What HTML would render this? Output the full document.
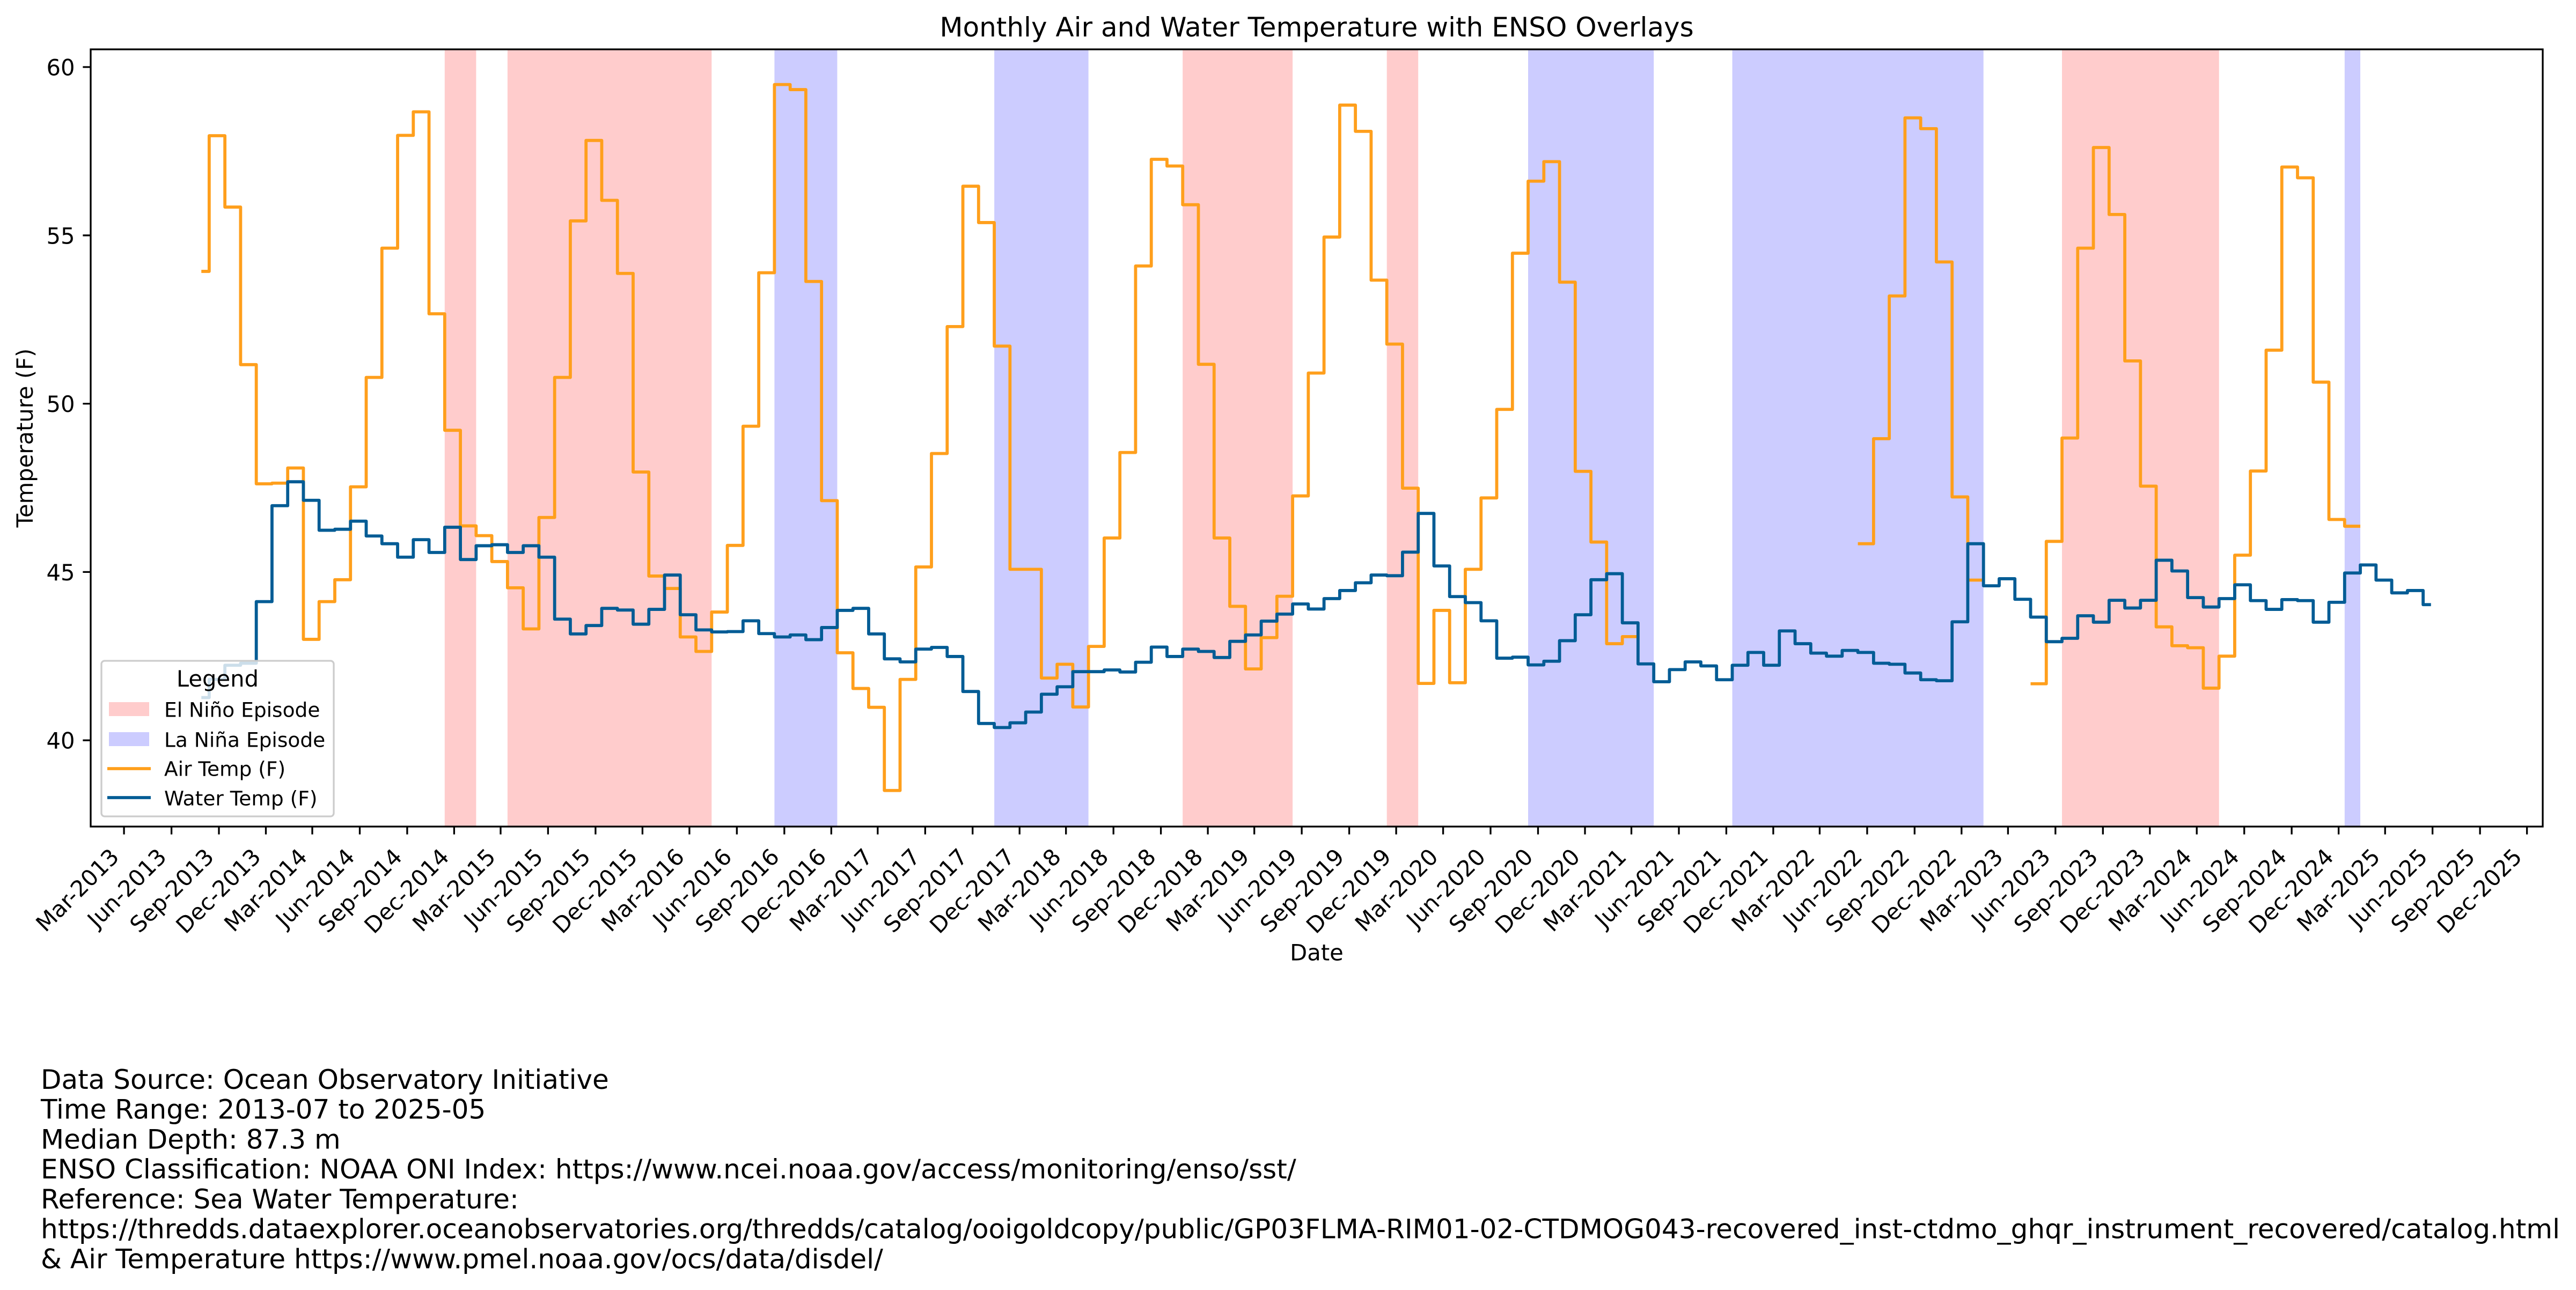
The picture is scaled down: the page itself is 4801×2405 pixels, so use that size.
<!DOCTYPE html>
<html>
<head>
<meta charset="utf-8">
<style>
html,body{margin:0;padding:0;background:#fff;}
svg{display:block;}
text{font-family:"DejaVu Sans","Liberation Sans",sans-serif;fill:#000;}
</style>
</head>
<body>
<svg width="4801" height="2405" viewBox="0 0 4801 2405" xmlns="http://www.w3.org/2000/svg">
<rect x="0" y="0" width="4801" height="2405" fill="#fff"/>

<!-- ENSO spans -->
<g fill="#ffcccc">
<rect x="828.8" y="92" width="58.6" height="1449"/>
<rect x="945.9" y="92" width="380.4" height="1449"/>
<rect x="2204.2" y="92" width="204.9" height="1449"/>
<rect x="2584.7" y="92" width="58.5" height="1449"/>
<rect x="3843.0" y="92" width="292.7" height="1449"/>
</g>
<g fill="#ccccff">
<rect x="1443.4" y="92" width="117.0" height="1449"/>
<rect x="1853.1" y="92" width="175.5" height="1449"/>
<rect x="2848.0" y="92" width="234.2" height="1449"/>
<rect x="3228.5" y="92" width="468.2" height="1449"/>
<rect x="4369.8" y="92" width="29.2" height="1449"/>
</g>

<!-- data lines: x = 360.6 + 29.264*u ; y = 3890.6 - 62.76*v -->
<g transform="matrix(29.264 0 0 -62.76 360.6 3890.6)" fill="none" stroke-linejoin="round">
<path vector-effect="non-scaling-stroke" stroke="#ff9f1c" stroke-width="5.8" d="M0.5 53.93H1V57.96H2V55.84H3V51.16H4V47.62H5V47.64H6V48.09H7V43H8V44.12H9V44.77H10V47.53H11V50.78H12V54.62H13V57.97H14V58.67H15V52.67H16V49.21H17V46.37H18V46.08H19V45.31H20V44.53H21V43.31H22V46.62H23V50.78H24V55.43H25V57.82H26V56.04H27V53.87H28V47.97H29V44.88H30V44.51H31V43.07H32V42.64H33V43.81H34V45.79H35V49.33H36V53.89H37V59.48H38V59.33H39V53.63H40V47.12H41V42.6H42V41.54H43V40.98H44V38.51H45V41.81H46V45.15H47V48.52H48V52.29H49V56.46H50V55.38H51V51.71H52V45.08H53V45.08H54V41.85H55V42.26H56V40.99H57V42.79H58V46.01H59V48.55H60V54.09H61V57.26H62V57.06H63V55.91H64V51.17H65V46.01H66V43.98H67V42.12H68V43.05H69V44.28H70V47.26H71V50.91H72V54.95H73V58.87H74V58.09H75V53.67H76V51.77H77V47.49H78V41.69H79V43.86H80V41.71H81V45.08H82V47.2H83V49.83H84V54.47H85V56.61H86V57.19H87V53.61H88V47.99H89V45.89H90V42.87H91V43.08H92M106 45.84H107V48.96H108V53.2H109V58.49H110V58.17H111V54.21H112V47.23H113V44.76H114M117 41.68H118V45.91H119V48.98H120V54.62H121V57.61H122V55.62H123V51.27H124V47.55H125V43.37H126V42.81H127V42.75H128V41.55H129V42.5H130V45.5H131V48H132V51.59H133V57.03H134V56.71H135V50.64H136V46.56H137V46.36H138"/>
<path vector-effect="non-scaling-stroke" stroke="#035c95" stroke-width="5.8" d="M0.5 41.27H1V41.81H2V42.23H3V42.29H4V44.12H5V46.97H6V47.68H7V47.13H8V46.24H9V46.27H10V46.51H11V46.07H12V45.84H13V45.44H14V45.96H15V45.58H16V46.33H17V45.37H18V45.78H19V45.81H20V45.58H21V45.78H22V45.44H23V43.6H24V43.16H25V43.41H26V43.92H27V43.87H28V43.45H29V43.89H30V44.91H31V43.73H32V43.28H33V43.22H34V43.23H35V43.55H36V43.17H37V43.07H38V43.13H39V42.99H40V43.35H41V43.86H42V43.92H43V43.16H44V42.42H45V42.33H46V42.71H47V42.76H48V42.49H49V41.45H50V40.5H51V40.38H52V40.52H53V40.84H54V41.37H55V41.59H56V42.04H57V42.04H58V42.09H59V42.03H60V42.32H61V42.77H62V42.49H63V42.71H64V42.64H65V42.46H66V42.94H67V43.13H68V43.54H69V43.75H70V44.05H71V43.9H72V44.21H73V44.45H74V44.68H75V44.91H76V44.89H77V45.59H78V46.74H79V45.18H80V44.27H81V44.09H82V43.55H83V42.44H84V42.47H85V42.24H86V42.35H87V42.96H88V43.73H89V44.77H90V44.95H91V43.49H92V42.27H93V41.74H94V42.1H95V42.33H96V42.21H97V41.8H98V42.23H99V42.61H100V42.23H101V43.25H102V42.87H103V42.59H104V42.5H105V42.67H106V42.61H107V42.29H108V42.26H109V42H110V41.8H111V41.77H112V43.52H113V45.84H114V44.59H115V44.8H116V44.19H117V43.66H118V42.93H119V43.03H120V43.7H121V43.51H122V44.16H123V43.93H124V44.16H125V45.35H126V45.03H127V44.24H128V43.96H129V44.21H130V44.62H131V44.15H132V43.89H133V44.18H134V44.15H135V43.51H136V44.1H137V44.97H138V45.21H139V44.76H140V44.38H141V44.45H142V44.03H142.5"/>
</g>

<!-- axes frame -->
<rect x="169" y="92" width="4570" height="1449" fill="none" stroke="#000" stroke-width="3.3"/>

<!-- y ticks -->
<path stroke="#000" stroke-width="3.3" fill="none" d="M154.4 1380.2H169M154.4 1066.4H169M154.4 752.6H169M154.4 438.8H169M154.4 125H169"/>
<g font-size="41.7" text-anchor="end">
<text x="139.5" y="1395.7">40</text>
<text x="139.5" y="1081.9">45</text>
<text x="139.5" y="768.1">50</text>
<text x="139.5" y="454.3">55</text>
<text x="139.5" y="140.5">60</text>
</g>

<!-- x ticks -->
<path stroke="#000" stroke-width="3.3" fill="none" d="M231.1 1541V1555.6M319.6 1541V1555.6M408.0 1541V1555.6M495.5 1541V1555.6M582.0 1541V1555.6M670.5 1541V1555.6M758.9 1541V1555.6M846.4 1541V1555.6M933.0 1541V1555.6M1021.4 1541V1555.6M1109.9 1541V1555.6M1197.4 1541V1555.6M1284.9 1541V1555.6M1373.3 1541V1555.6M1461.8 1541V1555.6M1549.3 1541V1555.6M1635.8 1541V1555.6M1724.3 1541V1555.6M1812.7 1541V1555.6M1900.2 1541V1555.6M1986.7 1541V1555.6M2075.2 1541V1555.6M2163.6 1541V1555.6M2251.1 1541V1555.6M2337.7 1541V1555.6M2426.1 1541V1555.6M2514.6 1541V1555.6M2602.1 1541V1555.6M2689.6 1541V1555.6M2778.0 1541V1555.6M2866.5 1541V1555.6M2954.0 1541V1555.6M3040.5 1541V1555.6M3129.0 1541V1555.6M3217.4 1541V1555.6M3304.9 1541V1555.6M3391.4 1541V1555.6M3479.9 1541V1555.6M3568.3 1541V1555.6M3655.8 1541V1555.6M3742.4 1541V1555.6M3830.8 1541V1555.6M3919.3 1541V1555.6M4006.8 1541V1555.6M4094.2 1541V1555.6M4182.7 1541V1555.6M4271.1 1541V1555.6M4358.6 1541V1555.6M4445.2 1541V1555.6M4533.6 1541V1555.6M4622.1 1541V1555.6M4709.6 1541V1555.6"/>
<g font-size="41.7" text-anchor="end">
<text transform="translate(224.1,1600) rotate(-45)">Mar-2013</text>
<text transform="translate(312.6,1600) rotate(-45)">Jun-2013</text>
<text transform="translate(401.0,1600) rotate(-45)">Sep-2013</text>
<text transform="translate(488.5,1600) rotate(-45)">Dec-2013</text>
<text transform="translate(575.0,1600) rotate(-45)">Mar-2014</text>
<text transform="translate(663.5,1600) rotate(-45)">Jun-2014</text>
<text transform="translate(751.9,1600) rotate(-45)">Sep-2014</text>
<text transform="translate(839.4,1600) rotate(-45)">Dec-2014</text>
<text transform="translate(926.0,1600) rotate(-45)">Mar-2015</text>
<text transform="translate(1014.4,1600) rotate(-45)">Jun-2015</text>
<text transform="translate(1102.9,1600) rotate(-45)">Sep-2015</text>
<text transform="translate(1190.4,1600) rotate(-45)">Dec-2015</text>
<text transform="translate(1277.9,1600) rotate(-45)">Mar-2016</text>
<text transform="translate(1366.3,1600) rotate(-45)">Jun-2016</text>
<text transform="translate(1454.8,1600) rotate(-45)">Sep-2016</text>
<text transform="translate(1542.3,1600) rotate(-45)">Dec-2016</text>
<text transform="translate(1628.8,1600) rotate(-45)">Mar-2017</text>
<text transform="translate(1717.3,1600) rotate(-45)">Jun-2017</text>
<text transform="translate(1805.7,1600) rotate(-45)">Sep-2017</text>
<text transform="translate(1893.2,1600) rotate(-45)">Dec-2017</text>
<text transform="translate(1979.7,1600) rotate(-45)">Mar-2018</text>
<text transform="translate(2068.2,1600) rotate(-45)">Jun-2018</text>
<text transform="translate(2156.6,1600) rotate(-45)">Sep-2018</text>
<text transform="translate(2244.1,1600) rotate(-45)">Dec-2018</text>
<text transform="translate(2330.7,1600) rotate(-45)">Mar-2019</text>
<text transform="translate(2419.1,1600) rotate(-45)">Jun-2019</text>
<text transform="translate(2507.6,1600) rotate(-45)">Sep-2019</text>
<text transform="translate(2595.1,1600) rotate(-45)">Dec-2019</text>
<text transform="translate(2682.6,1600) rotate(-45)">Mar-2020</text>
<text transform="translate(2771.0,1600) rotate(-45)">Jun-2020</text>
<text transform="translate(2859.5,1600) rotate(-45)">Sep-2020</text>
<text transform="translate(2947.0,1600) rotate(-45)">Dec-2020</text>
<text transform="translate(3033.5,1600) rotate(-45)">Mar-2021</text>
<text transform="translate(3122.0,1600) rotate(-45)">Jun-2021</text>
<text transform="translate(3210.4,1600) rotate(-45)">Sep-2021</text>
<text transform="translate(3297.9,1600) rotate(-45)">Dec-2021</text>
<text transform="translate(3384.4,1600) rotate(-45)">Mar-2022</text>
<text transform="translate(3472.9,1600) rotate(-45)">Jun-2022</text>
<text transform="translate(3561.3,1600) rotate(-45)">Sep-2022</text>
<text transform="translate(3648.8,1600) rotate(-45)">Dec-2022</text>
<text transform="translate(3735.4,1600) rotate(-45)">Mar-2023</text>
<text transform="translate(3823.8,1600) rotate(-45)">Jun-2023</text>
<text transform="translate(3912.3,1600) rotate(-45)">Sep-2023</text>
<text transform="translate(3999.8,1600) rotate(-45)">Dec-2023</text>
<text transform="translate(4087.2,1600) rotate(-45)">Mar-2024</text>
<text transform="translate(4175.7,1600) rotate(-45)">Jun-2024</text>
<text transform="translate(4264.1,1600) rotate(-45)">Sep-2024</text>
<text transform="translate(4351.6,1600) rotate(-45)">Dec-2024</text>
<text transform="translate(4438.2,1600) rotate(-45)">Mar-2025</text>
<text transform="translate(4526.6,1600) rotate(-45)">Jun-2025</text>
<text transform="translate(4615.1,1600) rotate(-45)">Sep-2025</text>
<text transform="translate(4702.6,1600) rotate(-45)">Dec-2025</text>
</g>

<!-- axis labels and title -->
<text x="2454" y="68" font-size="50" text-anchor="middle">Monthly Air and Water Temperature with ENSO Overlays</text>
<text x="2454" y="1790.7" font-size="41.7" text-anchor="middle">Date</text>
<text transform="translate(61,816.5) rotate(-90)" font-size="41.7" text-anchor="middle">Temperature (F)</text>

<!-- legend -->
<rect x="189" y="1232" width="433" height="290" rx="6" ry="6" fill="#fff" fill-opacity="0.8" stroke="#cccccc" stroke-width="3.3"/>
<text x="405.5" y="1280" font-size="41.7" text-anchor="middle">Legend</text>
<rect x="203" y="1309" width="75" height="26" fill="#ffcccc"/>
<rect x="203" y="1365" width="75" height="26" fill="#ccccff"/>
<path d="M200 1433H281" stroke="#ff9f1c" stroke-width="5.8"/>
<path d="M200 1487H281" stroke="#035c95" stroke-width="5.8"/>
<g font-size="37.5">
<text x="306" y="1336.7">El Niño Episode</text>
<text x="306" y="1392.3">La Niña Episode</text>
<text x="306" y="1446.7">Air Temp (F)</text>
<text x="306" y="1501.7">Water Temp (F)</text>
</g>

<!-- footer text -->
<g font-size="50">
<text x="76" y="2029.8">Data Source: Ocean Observatory Initiative</text>
<text x="76" y="2085.5">Time Range: 2013-07 to 2025-05</text>
<text x="76" y="2141.3">Median Depth: 87.3 m</text>
<text x="76" y="2197.1">ENSO Classification: NOAA ONI Index: https://www.ncei.noaa.gov/access/monitoring/enso/sst/</text>
<text x="76" y="2252.8">Reference: Sea Water Temperature:</text>
<text x="76" y="2308.6" textLength="4695" lengthAdjust="spacingAndGlyphs">https://thredds.dataexplorer.oceanobservatories.org/thredds/catalog/ooigoldcopy/public/GP03FLMA-RIM01-02-CTDMOG043-recovered_inst-ctdmo_ghqr_instrument_recovered/catalog.html</text>
<text x="76" y="2364.4">&amp; Air Temperature https://www.pmel.noaa.gov/ocs/data/disdel/</text>
</g>
</svg>
</body>
</html>
